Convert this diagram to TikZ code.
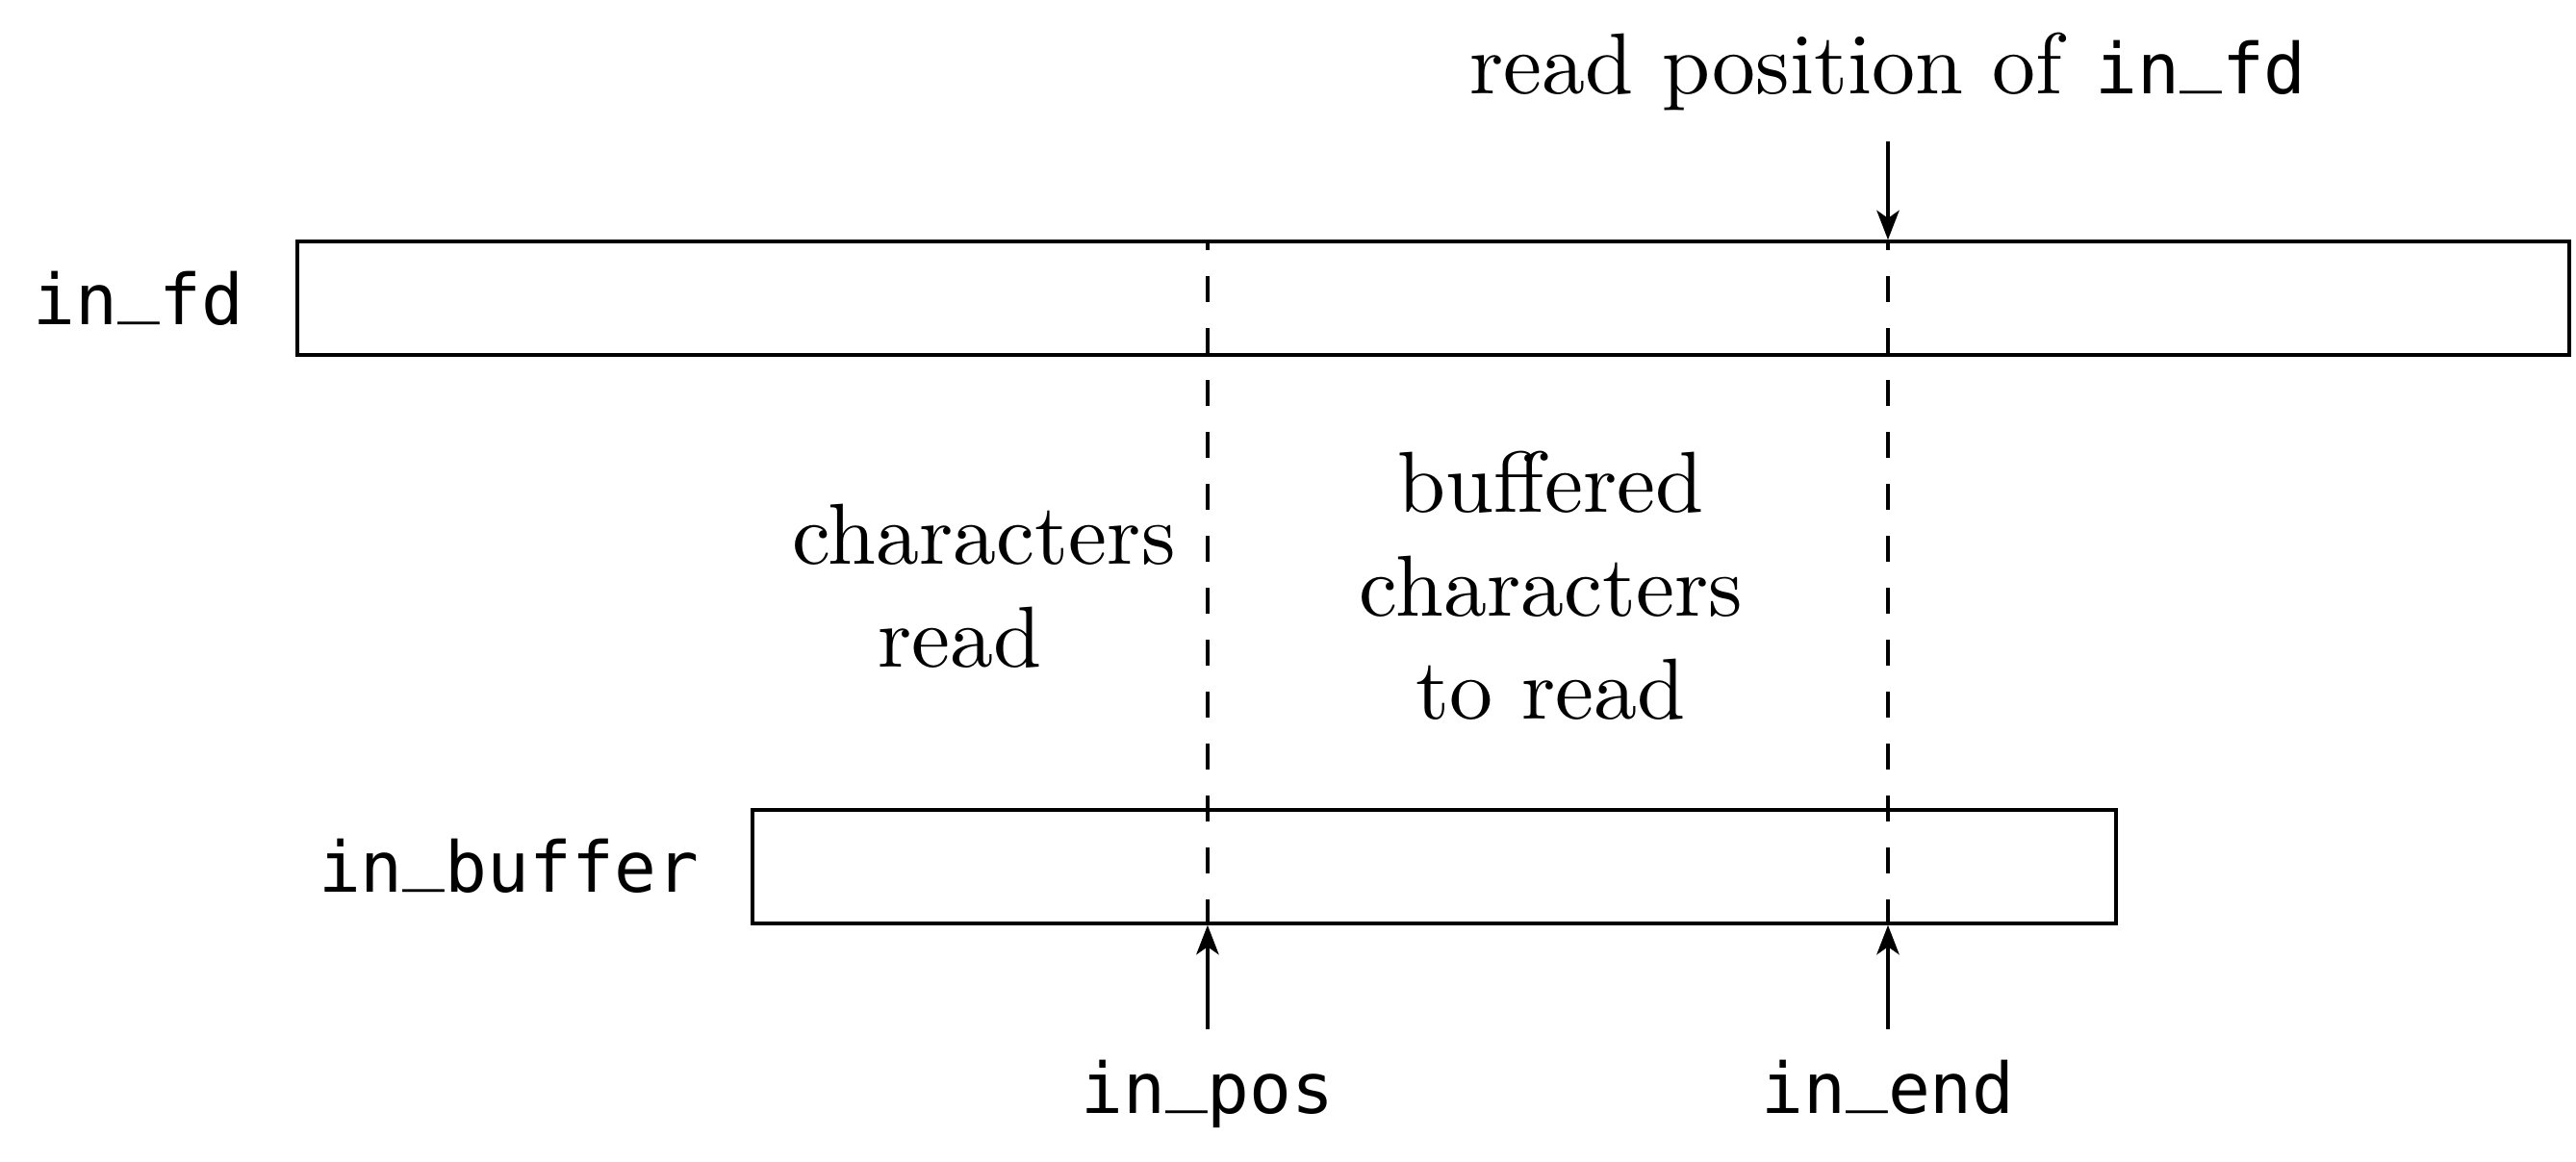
\documentclass[tikz,border=0pt]{standalone}
\usepackage{fontspec}
\setmonofont[Scale=0.81]{DejaVu Sans Mono}
\usetikzlibrary{arrows.meta, positioning}
\newcommand{\usc}{\raisebox{\depth}{\_}}

\begin{document}
\begin{tikzpicture}[>={Stealth[length=3.4pt, width=2.6pt, inset=0.9pt]},
    box/.style={draw, minimum height=0.46cm, inner sep=0pt},
    lbl/.style={font=\ttfamily, inner sep=0pt}]
            \useasboundingbox (0,0) rectangle (10.457,4.715);

            % 文件与缓冲区
            \node[box, minimum width=9.223cm] (fd) at (5.818,3.504) {};
            \node[box, minimum width=5.535cm] (buf) at (5.822,1.195) {};
            \node[lbl, anchor=base east] (fdlbl) at (0.998,3.395) {in\usc fd};
            \node[lbl, anchor=base east] (buflbl) at (2.843,1.09) {in\usc buffer};

            % 指针
            \coordinate (pos) at (4.902,0.535);
            \coordinate (end) at (7.664,0.535);
            \coordinate (rdtop) at (7.664,4.14);
            \node[lbl, anchor=base] (poslbl) at (4.902,0.193) {in\usc pos};
            \node[lbl, anchor=base] (endlbl) at (7.664,0.193) {in\usc end};
            \node[anchor=base, inner sep=0pt] (rdlbl) at (7.664,4.335) {read position of \texttt{in\usc fd}};
            \draw[->] (pos) -- (pos |- buf.south);
            \draw[->] (end) -- (end |- buf.south);
            \draw[->] (rdtop) -- (rdtop |- fd.north);

            % 分界线
            \draw[dashed] (pos |- buf.south) -- (pos |- fd.north);
            \draw[dashed] (end |- buf.south) -- (end |- fd.north);

            % 说明
            \node[align=center, anchor=base, inner sep=0pt] (donetxt) at (3.993,2.004) {characters\\read\hspace*{5.5pt}};
            \node[align=center, anchor=base, inner sep=0pt] (todotxt) at (6.296,1.793) {buffered\\characters\\to read};
        \end{tikzpicture}
\end{document}
